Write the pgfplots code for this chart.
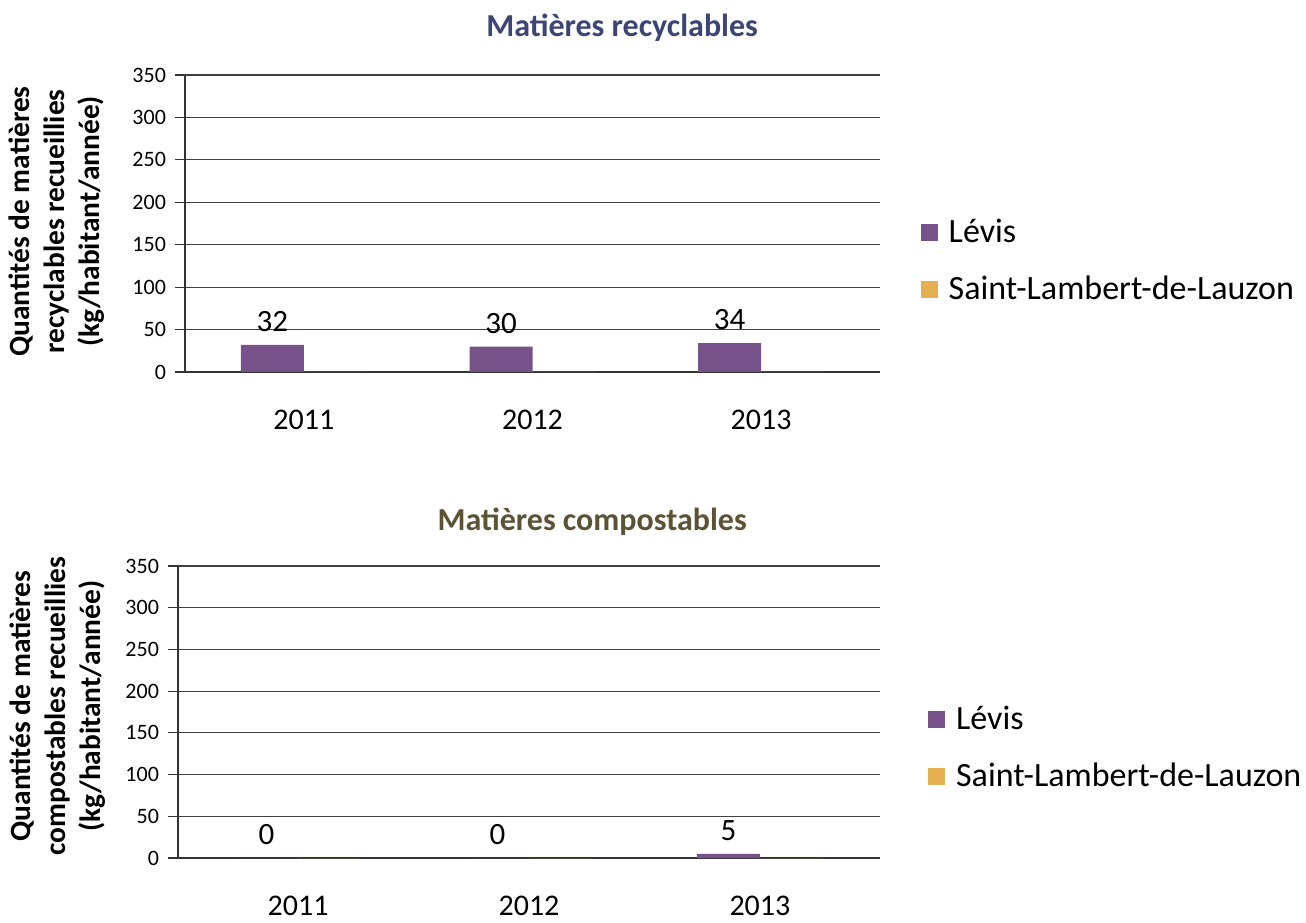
\documentclass[border=0pt]{standalone}
\usepackage{fontspec}
\setmainfont{Carlito}
\usepackage{pgfplots}
\pgfplotsset{compat=1.18}
\definecolor{levis}{HTML}{76518A}
\definecolor{sll}{HTML}{E5B04F}
\definecolor{titleblue}{HTML}{3C4573}
\definecolor{titlebrown}{HTML}{5C5335}
\pgfplotsset{
  every axis title/.style={at={(0.5,1)}, anchor=center, font=\fontsize{16}{19}\bfseries\selectfont},
  common/.style={
    scale only axis,
    ybar=0pt,
    bar width=31.5pt,
    ymin=0, ymax=350,
    ytick={0,50,...,350},
    xtick={0,1,2},
    xticklabels={2011,2012,2013},
    xmin=-0.52, xmax=2.52,
    axis x line*=bottom,
    axis y line*=left,
    axis line style={-, black!80, line width=0.7pt},
    ymajorgrids,
    major grid style={black!75, line width=0.6pt},
    major x tick style={draw=none},
    ytick style={black!80, line width=0.6pt},
    tick align=outside,
    major tick length=5pt,
    /pgf/number format/assume math mode=true,
    yticklabel style={font=\fontsize{11}{13}\selectfont, xshift=-1pt},
    xticklabel style={font=\fontsize{15}{18}\selectfont, yshift=-10.5pt},
    legend cell align=left,
    legend image code/.code={\fill[##1] (0pt,-4.25pt) rectangle (8.5pt,4.25pt); \path (12pt,0pt);},
    legend style={draw=none, fill=none, font=\fontsize{17}{20}\selectfont, row sep=11.5pt, anchor=west, inner sep=0pt},
    ylabel style={font=\fontsize{14.7}{17.5}\bfseries\selectfont, align=center, anchor=center},
    nodes near coords style={font=\fontsize{15.5}{18}\selectfont, text=black, yshift=3pt},
  }
}
\begin{document}
\begin{tikzpicture}
\path (0,0) rectangle (653pt,461pt);
\begin{axis}[common,
  at={(92.5pt,275pt)}, anchor=south west,
  width=347.5pt, height=148.5pt,
  title={\color{titleblue}Matières recyclables},
  title style={at={(axis description cs:0.629,1.158)}},
  ylabel={Quantités de matières\\recyclables recueillies\\(kg/habitant/année)},
  ylabel style={at={(axis description cs:-0.184,0.507)}},
  legend style={at={(axis description cs:1.058,0.374)}},
]
\addplot[fill=levis, draw=none, nodes near coords] coordinates {(0,32) (1,30) (2,34)};
\addplot[fill=sll, draw=none] coordinates {(0,0) (1,0) (2,0)};
\legend{Lévis,Saint-Lambert-de-Lauzon}
\end{axis}
\begin{axis}[common,
  at={(89pt,32pt)}, anchor=south west,
  width=351pt, height=146pt,
  title={\color{titlebrown}Matières compostables},
  title style={at={(axis description cs:0.59,1.15)}},
  ylabel={Quantités de matières\\compostables recueillies\\(kg/habitant/année)},
  ylabel style={at={(axis description cs:-0.172,0.52)}},
  legend style={at={(axis description cs:1.068,0.377)}},
]
\addplot[fill=levis, draw=none, nodes near coords] coordinates {(0,0) (1,0) (2,5)};
\addplot[fill=sll, draw=none] coordinates {(0,0) (1,0) (2,0)};
\legend{Lévis,Saint-Lambert-de-Lauzon}
\end{axis}
\end{tikzpicture}
\end{document}
